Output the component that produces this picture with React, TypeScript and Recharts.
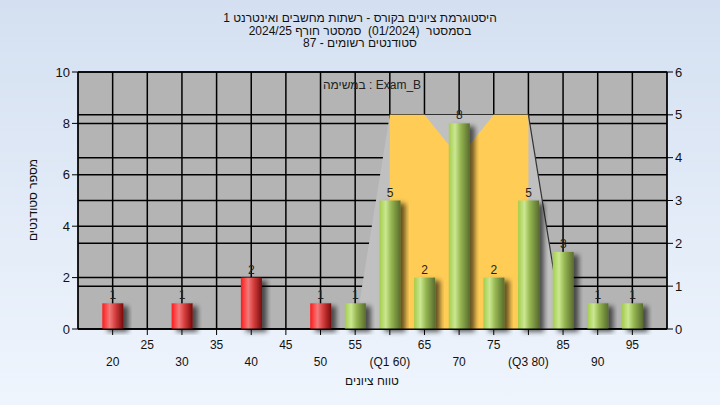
import React from "react";
import {
  Area,
  Bar,
  CartesianGrid,
  ComposedChart,
  LabelList,
  XAxis,
  YAxis,
} from "recharts";

// grade buckets and student counts
const grades = [20, 25, 30, 35, 40, 45, 50, 55, 60, 65, 70, 75, 80, 85, 90, 95];
const counts = [1, 0, 1, 0, 2, 0, 1, 1, 5, 2, 8, 2, 5, 3, 1, 1];
// quartile box (right axis)
const sideValues = [null, null, null, null, null, null, null, 0, 5, 5, 5, 5, 5, 0, null, null];
const boxValues = [null, null, null, null, null, null, null, null, 5, 5, 4, 5, 5, null, null, null];
const edgeValues = [null, null, null, null, null, null, null, null, null, null, null, null, 5, 0, null, null];
const leftTicks = [0, 2, 4, 6, 8, 10];
const rightTicks = [0, 1, 2, 3, 4, 5, 6];

const titleLines = [
  "היסטוגרמת ציונים בקורס - רשתות מחשבים ואינטרנט 1",
  "בסמסטר  (01/2024)  סמסטר חורף 2024/25",
  "סטודנטים רשומים - 87",
];

const data = grades.map((g, i) => ({
  grade: g,
  count: counts[i] > 0 ? counts[i] : null,
  side: sideValues[i],
  box: boxValues[i],
  edge: edgeValues[i],
}));

const FONT = "'Liberation Sans', 'DejaVu Sans', Arial, sans-serif";

function XTick(props: any) {
  const { x, payload } = props;
  const v = payload.value;
  const upper = (v / 5) % 2 === 1;
  let label = String(v);
  if (v === 60) label = "(Q1 60)";
  if (v === 80) label = "(Q3 80)";
  return (
    <text
      x={x}
      y={upper ? 349 : 366}
      textAnchor="middle"
      fontSize={12}
      fontFamily={FONT}
      fill="#111"
    >
      {label}
    </text>
  );
}

function CylBar(props: any) {
  const { x, y, width, height, payload } = props;
  if (!height || height <= 0) return null;
  const fill = payload.grade < 55 ? "url(#redGrad)" : "url(#greenGrad)";
  return (
    <rect x={x} y={y} width={width} height={height} fill={fill} filter="url(#barShadow)" />
  );
}

export default function App() {
  return (
    <div
      style={{
        position: "absolute",
        left: 0,
        top: 0,
        width: 720,
        height: 405,
        background: "linear-gradient(#d4e0f1, #eff5fd)",
        fontFamily: FONT,
      }}
    >
      <svg width={0} height={0} style={{ position: "absolute" }}>
        <defs>
          <linearGradient id="redGrad" x1="0" y1="0" x2="1" y2="0">
            <stop offset="0%" stopColor="#ff1a1a" />
            <stop offset="35%" stopColor="#f27a7a" />
            <stop offset="60%" stopColor="#d84040" />
            <stop offset="100%" stopColor="#780a0a" />
          </linearGradient>
          <linearGradient id="greenGrad" x1="0" y1="0" x2="1" y2="0">
            <stop offset="0%" stopColor="#a3cd4c" />
            <stop offset="30%" stopColor="#cbe792" />
            <stop offset="55%" stopColor="#97b852" />
            <stop offset="100%" stopColor="#586c2e" />
          </linearGradient>
          <filter id="barShadow" x="-20%" y="-10%" width="160%" height="130%">
            <feDropShadow dx="5" dy="3" stdDeviation="2.5" floodColor="#000" floodOpacity="0.6" />
          </filter>
        </defs>
      </svg>
      <ComposedChart
        width={720}
        height={405}
        data={data}
        margin={{ top: 72, right: 0, bottom: 0, left: 0 }}
      >
        <CartesianGrid
          yAxisId="left"
          stroke="#000"
          strokeWidth={1.5}
          fill="#b4b4b4"
          fillOpacity={1}
          vertical={true}
        />
        <CartesianGrid yAxisId="right" stroke="#000" strokeWidth={1.5} vertical={false} />
        <XAxis
          dataKey="grade"
          type="number"
          domain={[15, 100]}
          ticks={grades}
          interval={0}
          height={76}
          stroke="#000"
          tickLine={{ stroke: "#000" }}
          tick={<XTick />}
        />
        <YAxis
          yAxisId="left"
          orientation="left"
          width={78}
          domain={[0, 10]}
          ticks={leftTicks}
          stroke="#000"
          tick={{ fontSize: 13, fill: "#111", fontFamily: FONT }}
        />
        <YAxis
          yAxisId="right"
          orientation="right"
          width={53}
          domain={[0, 6]}
          ticks={rightTicks}
          stroke="#000"
          tick={{ fontSize: 13, fill: "#111", fontFamily: FONT }}
        />
        <Area
          yAxisId="right"
          dataKey="side"
          type="linear"
          fill="#c0c0c0"
          fillOpacity={1}
          stroke="none"
          isAnimationActive={false}
          dot={false}
          activeDot={false}
        />
        <Area
          yAxisId="right"
          dataKey="box"
          type="linear"
          fill="#ffcc55"
          fillOpacity={1}
          stroke="none"
          isAnimationActive={false}
          dot={false}
          activeDot={false}
        />
        <Area
          yAxisId="right"
          dataKey="edge"
          type="linear"
          fill="none"
          fillOpacity={0}
          stroke="#333"
          strokeWidth={1.2}
          dot={false}
          activeDot={false}
          isAnimationActive={false}
        />
        <Bar
          yAxisId="left"
          dataKey="count"
          barSize={21}
          shape={<CylBar />}
          isAnimationActive={false}
        >
          <LabelList
            dataKey="count"
            position="top"
            offset={4}
            fontSize={12}
            fill="#222"
            fontFamily={FONT}
          />
        </Bar>
      </ComposedChart>
      <svg
        width={720}
        height={405}
        style={{ position: "absolute", left: 0, top: 0, pointerEvents: "none" }}
      >
        {titleLines.map((t, i) => (
          <text
            key={i}
            x={360}
            y={22 + i * 12.5}
            textAnchor="middle"
            direction="rtl"
            fontSize={12}
            fontFamily={FONT}
            fill="#111"
            style={{ whiteSpace: "pre" }}
          >
            {t}
          </text>
        ))}
        <text x={372} y={89} textAnchor="middle" fontSize={12} fontFamily={FONT} fill="#222">
          במשימה : Exam_B
        </text>
        <text
          x={372}
          y={385}
          textAnchor="middle"
          direction="rtl"
          fontSize={12}
          fontFamily={FONT}
          fill="#111"
        >
          טווח ציונים
        </text>
        <text
          x={37}
          y={200}
          textAnchor="middle"
          direction="rtl"
          fontSize={12}
          fontFamily={FONT}
          fill="#111"
          transform="rotate(-90 37 200)"
        >
          מספר סטודנטים
        </text>
      </svg>
    </div>
  );
}
